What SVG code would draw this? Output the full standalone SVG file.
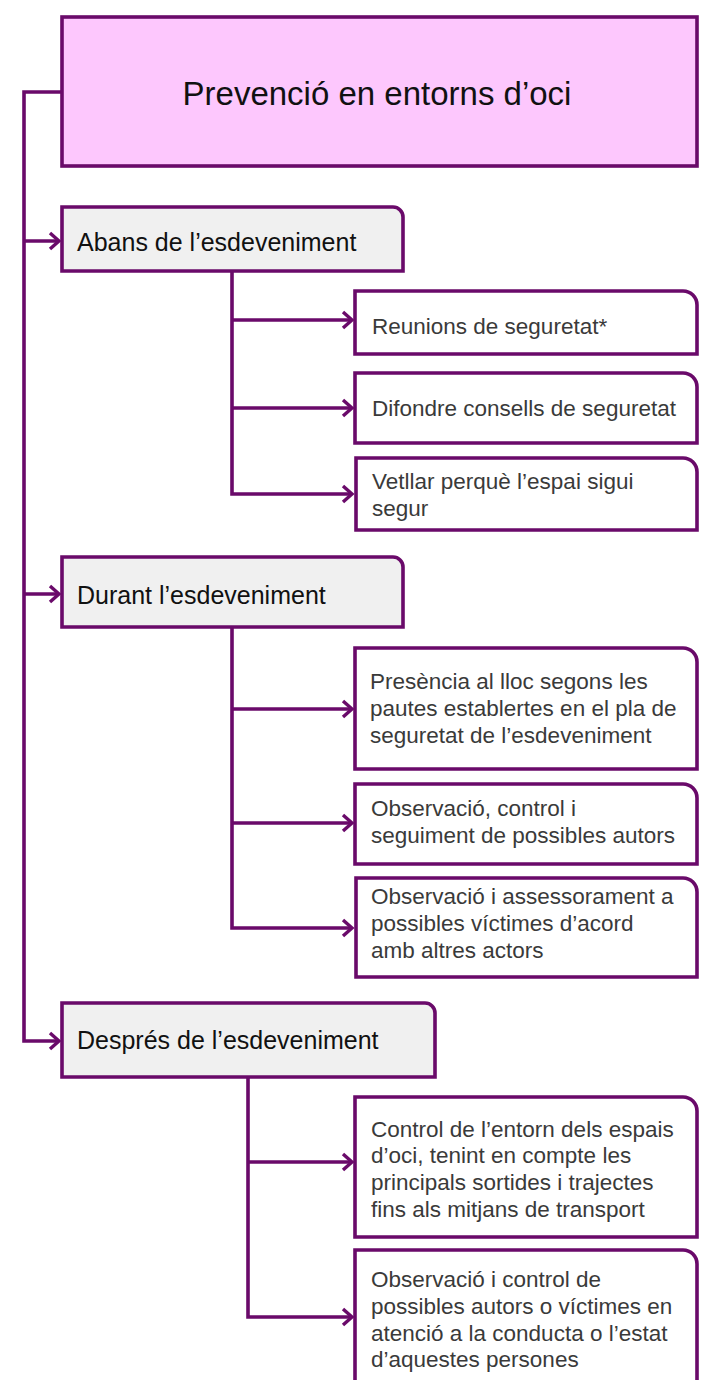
<svg xmlns="http://www.w3.org/2000/svg" width="702" height="1380" viewBox="0 0 702 1380">
<style>
.box{stroke:#6a0a6a;stroke-width:3.6;}
.root{fill:#fdc7fd;}
.hdr{fill:#f0f0f0;}
.leaf{fill:#ffffff;}
.conn{fill:none;stroke:#6a0a6a;stroke-width:3.6;}
.title{font-family:"Liberation Sans",Arial,sans-serif;font-size:33px;fill:#111;}
.htxt{font-family:"Liberation Sans",Arial,sans-serif;font-size:25px;fill:#111;}
.ltxt{font-family:"Liberation Sans",Arial,sans-serif;font-size:22.5px;fill:#3a3a3a;}
</style>
<defs>
<marker id="arr" markerUnits="userSpaceOnUse" markerWidth="14" markerHeight="20" refX="11" refY="10" orient="auto">
<path d="M2,2 L11,10 L2,18" fill="none" stroke="#6a0a6a" stroke-width="3.4"/>
</marker>
</defs>
<rect width="702" height="1380" fill="#ffffff"/>
<g id="connectors">
<path class="conn" d="M62,92 H24 V1041 H59" marker-end="url(#arr)"/>
<path class="conn" d="M24,241 H59" marker-end="url(#arr)"/>
<path class="conn" d="M24,594 H59" marker-end="url(#arr)"/>
<path class="conn" d="M232,271 V494 H352" marker-end="url(#arr)"/>
<path class="conn" d="M232,320 H352" marker-end="url(#arr)"/>
<path class="conn" d="M232,408 H352" marker-end="url(#arr)"/>
<path class="conn" d="M232,627 V928 H352" marker-end="url(#arr)"/>
<path class="conn" d="M232,709 H352" marker-end="url(#arr)"/>
<path class="conn" d="M232,823 H352" marker-end="url(#arr)"/>
<path class="conn" d="M248,1077 V1317 H352" marker-end="url(#arr)"/>
<path class="conn" d="M248,1162 H352" marker-end="url(#arr)"/>
</g>
<g id="root">
<rect class="box root" x="62" y="17" width="635" height="149"/>
<text class="title" x="377" y="105" text-anchor="middle">Prevenció en entorns d’oci</text>
</g>
<g id="abans">
<path class="box hdr" d="M62,207 H393 A10,10 0 0 1 403,217 V271 H62 Z"/>
<text class="htxt" x="77" y="251">Abans de l’esdeveniment</text>
</g>
<g id="reunions">
<path class="box leaf" d="M355,291 H683 A14,14 0 0 1 697,305 V354 H355 Z"/>
<text class="ltxt" x="372" y="334">Reunions de seguretat*</text>
</g>
<g id="difondre">
<path class="box leaf" d="M355,373 H683 A14,14 0 0 1 697,387 V443 H355 Z"/>
<text class="ltxt" x="372" y="416">Difondre consells de seguretat</text>
</g>
<g id="vetllar">
<path class="box leaf" d="M356,458 H683 A14,14 0 0 1 697,472 V530 H356 Z"/>
<text class="ltxt" x="372" y="489">Vetllar perquè l’espai sigui</text>
<text class="ltxt" x="372" y="516">segur</text>
</g>
<g id="durant">
<path class="box hdr" d="M62,557 H393 A10,10 0 0 1 403,567 V627 H62 Z"/>
<text class="htxt" x="77" y="604">Durant l’esdeveniment</text>
</g>
<g id="presencia">
<path class="box leaf" d="M355,648 H683 A14,14 0 0 1 697,662 V769 H355 Z"/>
<text class="ltxt" x="370" y="689">Presència al lloc segons les</text>
<text class="ltxt" x="370" y="716">pautes establertes en el pla de</text>
<text class="ltxt" x="370" y="743">seguretat de l’esdeveniment</text>
</g>
<g id="observacio-control">
<path class="box leaf" d="M355,784 H683 A14,14 0 0 1 697,798 V864 H355 Z"/>
<text class="ltxt" x="371" y="816">Observació, control i</text>
<text class="ltxt" x="371" y="843">seguiment de possibles autors</text>
</g>
<g id="observacio-assessorament">
<path class="box leaf" d="M356,878 H683 A14,14 0 0 1 697,892 V977 H356 Z"/>
<text class="ltxt" x="371" y="904">Observació i assessorament a</text>
<text class="ltxt" x="371" y="931">possibles víctimes d’acord</text>
<text class="ltxt" x="371" y="958">amb altres actors</text>
</g>
<g id="despres">
<path class="box hdr" d="M62,1003 H425 A10,10 0 0 1 435,1013 V1077 H62 Z"/>
<text class="htxt" x="77" y="1049">Després de l’esdeveniment</text>
</g>
<g id="control-entorn">
<path class="box leaf" d="M355,1097 H683 A14,14 0 0 1 697,1111 V1237 H355 Z"/>
<text class="ltxt" x="371" y="1137">Control de l’entorn dels espais</text>
<text class="ltxt" x="371" y="1163">d’oci, tenint en compte les</text>
<text class="ltxt" x="371" y="1190">principals sortides i trajectes</text>
<text class="ltxt" x="371" y="1217">fins als mitjans de transport</text>
</g>
<g id="observacio-victimes">
<path class="box leaf" d="M355,1250 H683 A14,14 0 0 1 697,1264 V1400 H355 Z"/>
<text class="ltxt" x="371" y="1287">Observació i control de</text>
<text class="ltxt" x="371" y="1314">possibles autors o víctimes en</text>
<text class="ltxt" x="371" y="1341">atenció a la conducta o l’estat</text>
<text class="ltxt" x="371" y="1367">d’aquestes persones</text>
</g>
</svg>
